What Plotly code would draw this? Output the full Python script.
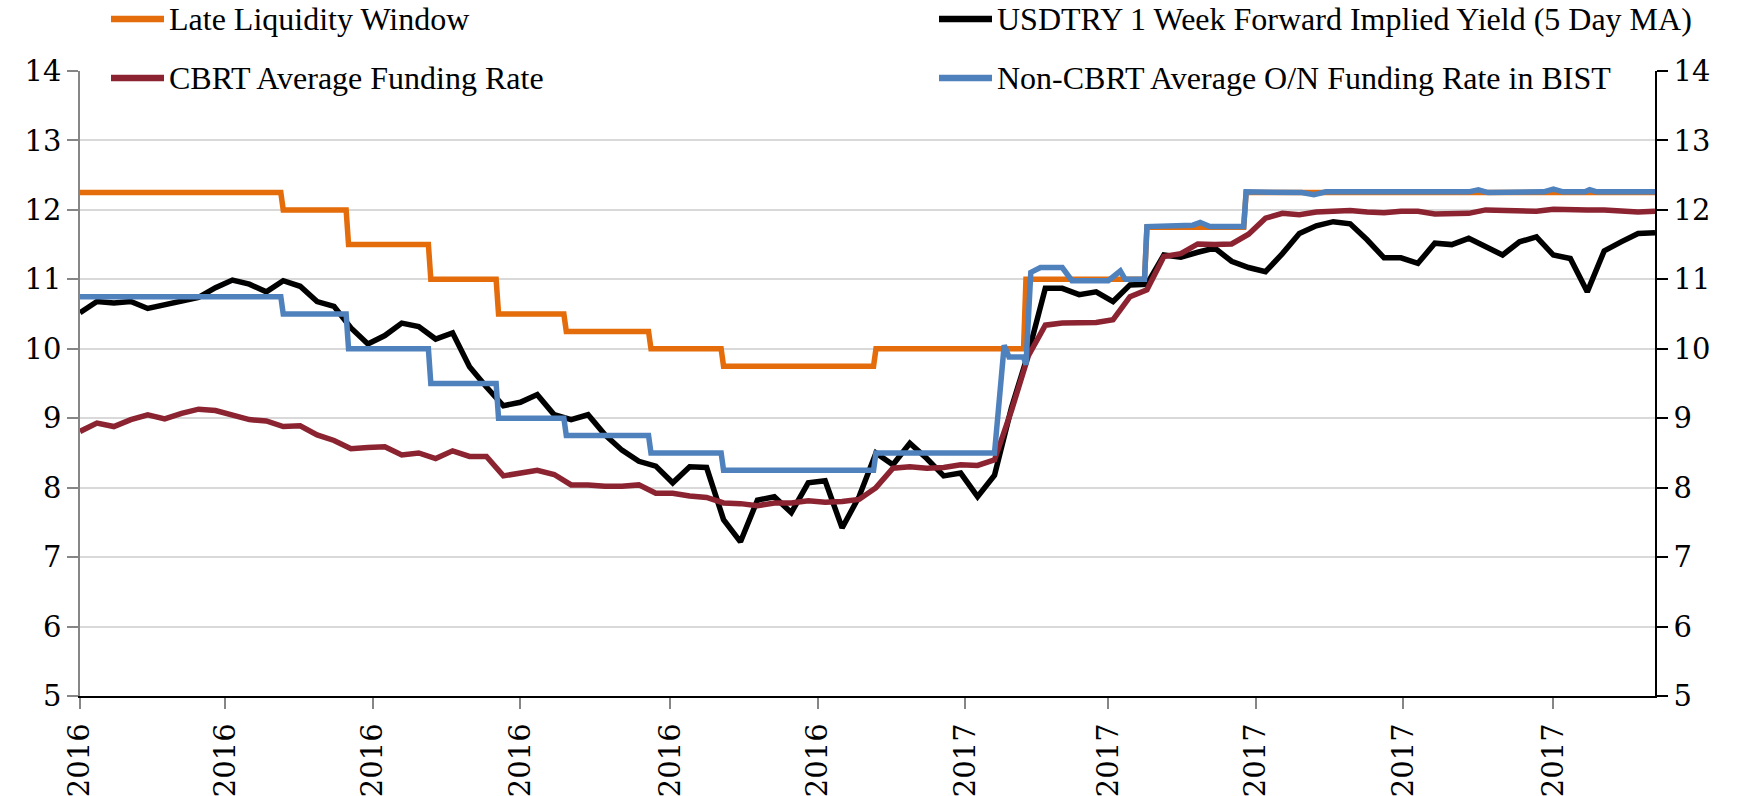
import pandas as pd
import plotly.graph_objects as go

# ---------------- data ----------------
# weekly observation dates for the two market series
weekly_dates = pd.date_range("2016-01-01", periods=94, freq="7D")

usdtry_fwd_yield = [
    10.52, 10.68, 10.66, 10.68, 10.58, 10.63, 10.70, 10.74, 10.88, 10.99, 10.93, 10.82, 10.98, 10.90, 10.68, 10.61,
    10.30, 10.07, 10.19, 10.37, 10.32, 10.14, 10.23, 9.74, 9.45, 9.18, 9.23, 9.34, 9.05, 8.98, 9.05, 8.76,
    8.54, 8.38, 8.31, 8.07, 8.30, 8.29, 7.54, 7.22, 7.82, 7.87, 7.64, 8.07, 8.10, 7.42, 7.87, 8.50,
    8.33, 8.64, 8.42, 8.17, 8.21, 7.87, 8.18, 9.15, 9.94, 10.87, 10.87, 10.78, 10.82, 10.68, 10.92, 10.93,
    11.35, 11.32, 11.39, 11.45, 11.26, 11.17, 11.11, 11.37, 11.66, 11.77, 11.83, 11.80, 11.57, 11.31, 11.31, 11.23,
    11.52, 11.50, 11.59, 11.47, 11.35, 11.54, 11.61, 11.35, 11.30, 10.82, 11.41, 11.54, 11.66, 11.67,
]

cbrt_avg_funding = [
    8.81, 8.93, 8.88, 8.98, 9.05, 8.99, 9.07, 9.13, 9.11, 9.05, 8.98, 8.96, 8.88, 8.89, 8.76, 8.68,
    8.56, 8.58, 8.59, 8.47, 8.50, 8.42, 8.53, 8.45, 8.45, 8.17, 8.22, 8.25, 8.19, 8.04, 8.04, 8.02,
    8.02, 8.04, 7.92, 7.92, 7.88, 7.86, 7.78, 7.77, 7.74, 7.78, 7.78, 7.81, 7.79, 7.80, 7.83, 8.00,
    8.28, 8.30, 8.28, 8.29, 8.33, 8.32, 8.40, 9.11, 9.90, 10.34, 10.37, 10.38, 10.38, 10.42, 10.75, 10.85,
    11.33, 11.37, 11.51, 11.50, 11.51, 11.65, 11.88, 11.95, 11.93, 11.97, 11.98, 11.99, 11.97, 11.96, 11.98, 11.98,
    11.94, 11.94, 11.95, 12.00, 11.99, 11.98, 11.98, 12.01, 12.00, 12.00, 12.00, 11.99, 11.97, 11.98,
]

llw_dates = [
    "2016-01-01", "2016-03-24", "2016-03-25", "2016-04-20", "2016-04-21", "2016-05-24", "2016-05-25",
    "2016-06-21", "2016-06-22", "2016-07-19", "2016-07-20", "2016-08-23", "2016-08-24", "2016-09-22",
    "2016-09-23", "2016-11-24", "2016-11-25", "2017-01-25", "2017-01-26", "2017-03-16", "2017-03-17",
    "2017-04-26", "2017-04-27", "2017-10-13",
]
llw_rate = [
    12.25, 12.25, 12.00, 12.00, 11.50, 11.50, 11.00,
    11.00, 10.50, 10.50, 10.25, 10.25, 10.00, 10.00,
    9.75, 9.75, 10.00, 10.00, 11.00, 11.00, 11.75,
    11.75, 12.25, 12.25,
]

bist_dates = [
    "2016-01-01", "2016-03-24", "2016-03-25", "2016-04-20", "2016-04-21", "2016-05-24", "2016-05-25",
    "2016-06-21", "2016-06-22", "2016-07-19", "2016-07-20", "2016-08-23", "2016-08-24", "2016-09-22",
    "2016-09-23", "2016-11-24", "2016-11-25", "2017-01-13", "2017-01-17", "2017-01-19", "2017-01-25",
    "2017-01-26", "2017-01-28", "2017-02-01", "2017-02-10", "2017-02-14", "2017-03-01", "2017-03-06",
    "2017-03-08", "2017-03-16", "2017-03-17", "2017-04-05", "2017-04-08", "2017-04-12", "2017-04-26",
    "2017-04-27", "2017-05-20", "2017-05-25", "2017-05-30", "2017-07-28", "2017-08-01", "2017-08-05",
    "2017-08-28", "2017-09-01", "2017-09-05", "2017-09-14", "2017-09-16", "2017-09-19", "2017-10-13",
]
bist_rate = [
    10.75, 10.75, 10.50, 10.50, 10.00, 10.00, 9.50,
    9.50, 9.00, 9.00, 8.75, 8.75, 8.50, 8.50,
    8.25, 8.25, 8.50, 8.50, 10.05, 9.88, 9.88,
    9.77, 11.10, 11.17, 11.17, 10.98, 10.98, 11.12,
    11.00, 11.00, 11.76, 11.78, 11.82, 11.76, 11.76,
    12.26, 12.25, 12.22, 12.26, 12.26, 12.29, 12.25,
    12.26, 12.30, 12.26, 12.26, 12.29, 12.26, 12.26,
]

series_names = [
    "Late Liquidity Window",
    "USDTRY 1 Week Forward Implied Yield (5 Day MA)",
    "CBRT Average Funding Rate",
    "Non-CBRT Average O/N Funding Rate in BIST",
]
series_colors = ["#E46C0A", "#000000", "#8B2331", "#4F81BD"]

# ---------------- figure ----------------
TICK_FONT = dict(family="DejaVu Serif", size=29, color="black")
LEG_FONT = dict(family="Liberation Serif", size=32, color="black")
LW = 5.5

fig = go.Figure()
fig.add_trace(go.Scatter(x=llw_dates, y=llw_rate, mode="lines", name=series_names[0],
                         line=dict(color=series_colors[0], width=LW)))
fig.add_trace(go.Scatter(x=weekly_dates, y=usdtry_fwd_yield, mode="lines", name=series_names[1],
                         line=dict(color=series_colors[1], width=LW)))
fig.add_trace(go.Scatter(x=weekly_dates, y=cbrt_avg_funding, mode="lines", name=series_names[2],
                         line=dict(color=series_colors[2], width=LW)))
fig.add_trace(go.Scatter(x=bist_dates, y=bist_rate, mode="lines", name=series_names[3],
                         line=dict(color=series_colors[3], width=LW), yaxis="y2"))

# manual two-column legend (positions in paper units)
W_PX, H_PX = 1742, 796
L, R, T, B = 80, 87, 71, 100
pw, ph = W_PX - L - R, H_PX - T - B


def px_x(x):
    return (x - L) / pw


def px_y(y):
    return (H_PX - B - y) / ph


legend_rows = [(19, 0), (19, 1), (78, 0), (78, 1)]
col_line = [(111, 164, 167), (939, 992, 995)]
shapes = []
annotations = []
for i, (ry, col) in enumerate(legend_rows):
    x0, x1, xt = col_line[col]
    shapes.append(dict(type="line", xref="paper", yref="paper",
                       x0=px_x(x0), x1=px_x(x1), y0=px_y(ry), y1=px_y(ry),
                       line=dict(color=series_colors[i], width=6.5)))
    annotations.append(dict(text=series_names[i], xref="paper", yref="paper",
                            x=px_x(xt), y=px_y(ry), xanchor="left", yanchor="middle",
                            showarrow=False, font=LEG_FONT))

fig.update_layout(
    width=W_PX, height=H_PX,
    margin=dict(l=L, r=R, t=T, b=B, pad=0),
    paper_bgcolor="white", plot_bgcolor="white",
    showlegend=False,
    shapes=shapes, annotations=annotations,
    xaxis=dict(type="date", range=["2016-01-01", "2017-10-13"],
               tick0="2016-01-01", dtick="M2", tickformat="%Y", tickangle=-90,
               ticks="outside", ticklen=11, tickwidth=1.5, tickcolor="#868686",
               ticklabelstandoff=3, automargin=False,
               showline=True, linecolor="black", linewidth=1.5,
               showgrid=False, zeroline=False, tickfont=TICK_FONT),
    yaxis=dict(range=[5, 14], dtick=1, ticks="outside", ticklen=11, tickwidth=1.5,
               tickcolor="#868686", showline=True, linecolor="#868686", linewidth=1.5,
               showgrid=True, gridcolor="#D9D9D9", gridwidth=1.5, zeroline=False,
               automargin=False, tickfont=TICK_FONT),
    yaxis2=dict(range=[5, 14], dtick=1, overlaying="y", side="right", ticks="outside",
                ticklen=11, tickwidth=1.5, tickcolor="black", showline=True,
                linecolor="black", linewidth=1.5, showgrid=False, zeroline=False,
                automargin=False, tickfont=TICK_FONT),
)

fig.write_html("out.html", config={"displayModeBar": False},
               post_script="document.body.style.margin='0';")
